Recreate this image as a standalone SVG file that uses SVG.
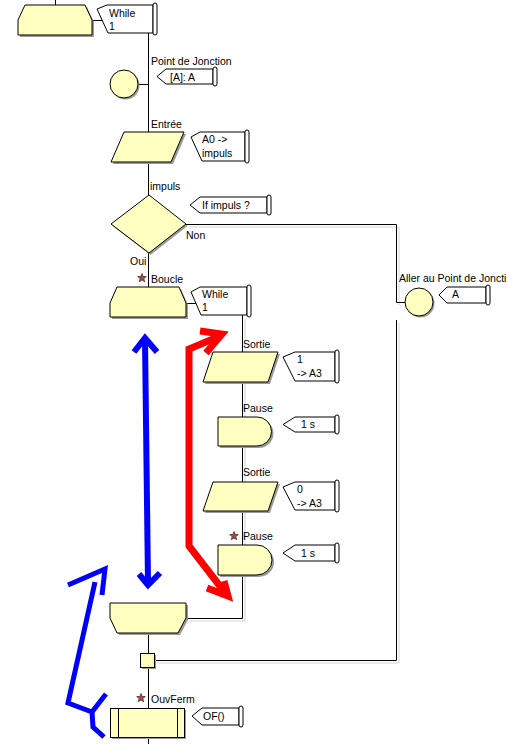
<svg xmlns="http://www.w3.org/2000/svg" width="508" height="744" viewBox="0 0 508 744">
<style>
.t{font-family:"Liberation Sans",Arial,sans-serif;font-size:10.5px;fill:#000}
.s{fill:#ffffc0;stroke:#000;stroke-width:1}
.sh{fill:#9a9a9a;stroke:none}
.c{fill:#fff;stroke:#000;stroke-width:1}
.ln{fill:none;stroke:#000;stroke-width:1}
.lg{fill:none;stroke:#d4d4d4;stroke-width:1}
.star{fill:#b04a4a;stroke:#3a2020;stroke-width:0.7}
</style>
<defs>
<polygon id="star" points="0,-4.5 1.1,-1.5 4.3,-1.4 1.8,0.6 2.7,3.7 0,1.9 -2.7,3.7 -1.8,0.6 -4.3,-1.4 -1.1,-1.5"/>
</defs>
<rect width="508" height="744" fill="#fff"/>
<g id="connectors">
<path class="lg" d="M189,227 H399 V305 M157,663 H399 V323 M189,621 H245 V318"/>
<path class="ln" d="M55.5,0 V5 M92,20.5 H102 M148.5,33 V132 M138,84.5 H148.5 M148.5,162 V195 M148.5,253 V287 M186,303.5 H197 M186,224.5 H396.5 V302.5 H405 M242.5,315 V618.5 H186 M148.5,633 V744 M154,660.5 H396.5 V320"/>
</g>
<g id="n_loop_top">
<path class="sh" d="M27,7 H87 L94,22 V37 H20 V22 Z"/>
<path class="s" d="M25,5 H85 L92,20 V35 H18 V20 Z"/>
</g>
<g id="c_while_top">
<path class="c" d="M107,5 H153 V33 H108 L97,9 Z"/>
<rect class="c" x="153" y="3" width="4" height="32" rx="2"/>
<text class="t" x="109" y="17">While</text>
<text class="t" x="109" y="30">1</text>
</g>
<g id="n_jonction">
<text class="t" x="151" y="65">Point de Jonction</text>
<circle class="sh" cx="125.5" cy="85.5" r="14"/>
<circle class="s" cx="124" cy="84" r="14"/>
<path class="c" d="M166,69 H213 V84 H166 L157,76.5 Z"/>
<rect class="c" x="213" y="67" width="4" height="19" rx="2"/>
<text class="t" x="170" y="81">[A]: A</text>
</g>
<g id="n_entree">
<text class="t" x="151" y="128">Entrée</text>
<path class="sh" d="M126,134 H186 L173,164 H113 Z"/>
<path class="s" d="M124,132 H184 L171,162 H111 Z"/>
<path class="c" d="M200,132 H245 V161 H202 L191,137 Z"/>
<rect class="c" x="245" y="130" width="4" height="33" rx="2"/>
<text class="t" x="202" y="143">A0 -&gt;</text>
<text class="t" x="202" y="157">impuls</text>
</g>
<g id="n_if">
<text class="t" x="150" y="190">impuls</text>
<path class="sh" d="M150.5,197 L187.5,226 L150.5,255 L112.5,226 Z"/>
<path class="s" d="M149,195 L186,224 L149,253 L111,224 Z"/>
<path class="c" d="M200,197 H267 V213 H200 L190,205 Z"/>
<rect class="c" x="267" y="195" width="4" height="20" rx="2"/>
<text class="t" x="202" y="209">If  impuls ?</text>
<text class="t" x="186" y="239">Non</text>
<text class="t" x="130" y="265">Oui</text>
</g>
<g id="n_aller">
<text class="t" x="399" y="282">Aller au Point de Joncti</text>
<circle class="sh" cx="420.5" cy="303.5" r="14"/>
<circle class="s" cx="419" cy="302" r="14"/>
<path class="c" d="M447,287 H486 V303 H447 L439,295 Z"/>
<rect class="c" x="486" y="285" width="4" height="20" rx="2"/>
<text class="t" x="452" y="298">A</text>
</g>
<g id="n_boucle">
<use href="#star" class="star" x="142" y="278"/>
<text class="t" x="151" y="283">Boucle</text>
<path class="sh" d="M119,289 H181 L188,305 V319 H112 V305 Z"/>
<path class="s" d="M117,287 H179 L186,303 V317 H110 V303 Z"/>
<path class="c" d="M200,287 H247 V315 H201 L191,292 Z"/>
<rect class="c" x="247" y="285" width="4" height="32" rx="2"/>
<text class="t" x="202" y="298">While</text>
<text class="t" x="202" y="311">1</text>
</g>
<g id="n_sortie1">
<text class="t" x="243" y="348">Sortie</text>
<path class="sh" d="M215,354 H280 L270,384 H205 Z"/>
<path class="s" d="M213,352 H278 L268,382 H203 Z"/>
<path class="c" d="M295,352 H335 V381 H295 L283,357 Z"/>
<rect class="c" x="335" y="350" width="4" height="33" rx="2"/>
<text class="t" x="297" y="363">1</text>
<text class="t" x="297" y="377">-&gt; A3</text>
</g>
<g id="n_pause1">
<text class="t" x="243" y="412">Pause</text>
<path class="sh" d="M220,419 H259 A14.5,14.5 0 0 1 259,448 H220 Z"/>
<path class="s" d="M218,417 H257 A14.5,14.5 0 0 1 257,446 H218 Z"/>
<path class="c" d="M295,417 H335 V432 H295 L283,424.5 Z"/>
<rect class="c" x="335" y="415" width="4" height="19" rx="2"/>
<text class="t" x="301" y="428">1 s</text>
</g>
<g id="n_sortie2">
<text class="t" x="243" y="476">Sortie</text>
<path class="sh" d="M215,484 H280 L270,513 H205 Z"/>
<path class="s" d="M213,482 H278 L268,511 H203 Z"/>
<path class="c" d="M295,482 H335 V510 H295 L283,487 Z"/>
<rect class="c" x="335" y="480" width="4" height="32" rx="2"/>
<text class="t" x="297" y="493">0</text>
<text class="t" x="297" y="507">-&gt; A3</text>
</g>
<g id="n_pause2">
<use href="#star" class="star" x="234" y="536"/>
<text class="t" x="243" y="540">Pause</text>
<path class="sh" d="M220,547 H259 A15,15 0 0 1 259,577 H220 Z"/>
<path class="s" d="M218,545 H257 A15,15 0 0 1 257,575 H218 Z"/>
<path class="c" d="M295,545 H335 V561 H295 L283,553 Z"/>
<rect class="c" x="335" y="543" width="4" height="20" rx="2"/>
<text class="t" x="301" y="557">1 s</text>
</g>
<g id="n_loop_end">
<path class="sh" d="M112,605 H188 V620 L180,635 H119 L112,620 Z"/>
<path class="s" d="M110,603 H186 V618 L178,633 H117 L110,618 Z"/>
</g>
<g id="n_junction">
<rect class="sh" x="142" y="655" width="14" height="14"/>
<rect class="s" x="140.5" y="653.5" width="14" height="14"/>
</g>
<g id="n_ouvferm">
<use href="#star" class="star" x="141" y="698"/>
<text class="t" x="151" y="703">OuvFerm</text>
<rect class="sh" x="112" y="710" width="74" height="29"/>
<rect class="s" x="110.5" y="708.5" width="74" height="29"/>
<path class="ln" d="M118.5,708.5 V737.5 M177.5,708.5 V737.5"/>
<path class="c" d="M202,708 H239 V725 H202 L192,716 Z"/>
<rect class="c" x="239" y="706" width="4" height="21" rx="2"/>
<text class="t" x="203" y="720">OF()</text>
</g>
<g id="annotations" fill="none" stroke-linecap="butt" stroke-linejoin="miter">
<path stroke="#ff0000" stroke-width="7" d="M220,336 L189,349 V546 L226,594"/>
<path stroke="#ff0000" stroke-width="7" d="M200,331 L222,334 L206,353"/>
<path stroke="#ff0000" stroke-width="7" d="M207,588 L228,596 L224,581"/>
<path stroke="#0000ff" stroke-width="6" d="M145,340 L148,583"/>
<path stroke="#0000ff" stroke-width="6" d="M134,352 L145,338 L157,352"/>
<path stroke="#0000ff" stroke-width="6" d="M139,574 L148,585 L160,573"/>
<path stroke="#0000ff" stroke-width="5" d="M95,582 L68,703 L92,712 M92,712 L106,694 M92,712 L93,727 L104,737"/>
<path stroke="#0000ff" stroke-width="5" d="M68,585 L105,569 L102,595"/>
</g>
</svg>
